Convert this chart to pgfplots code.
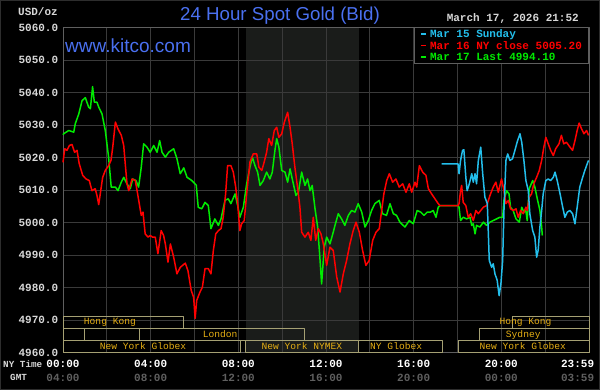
\documentclass[border=0pt]{standalone}
\usepackage{pgfplots}
\pgfplotsset{compat=1.18}
\usepackage{fontspec}
\setmainfont{Liberation Sans}
\newfontfamily\mono{Liberation Mono}
\definecolor{titleblue}{RGB}{74,112,240}
\definecolor{gridc}{RGB}{58,58,58}
\definecolor{framec}{RGB}{95,95,95}
\definecolor{shadec}{RGB}{26,28,26}
\definecolor{lbl}{RGB}{215,215,215}
\definecolor{gmtc}{RGB}{95,95,95}
\definecolor{sessbox}{RGB}{165,160,115}
\definecolor{sesstxt}{RGB}{230,175,20}
\definecolor{cyanl}{RGB}{35,190,235}
\definecolor{redl}{RGB}{255,0,0}
\definecolor{greenl}{RGB}{0,235,0}
\begin{document}
\begin{tikzpicture}
\useasboundingbox (0pt,0pt) rectangle (600pt,390pt);
\fill[black] (0pt,0pt) rectangle (600pt,390pt);
\draw[gray!35!black, line width=1pt] (0.5pt,0.5pt) rectangle (599.5pt,389.5pt);
\fill[shadec] (245.6pt,37.5pt) rectangle (358.9pt,363pt);
\begin{axis}[at={(63pt,37.5pt)}, anchor=south west, scale only axis,
  width=526pt, height=325pt,
  xmin=0, xmax=24, ymin=4960, ymax=5060,
  clip=false,
  axis line style={framec, line width=0.8pt},
  grid=both,
  major grid style={gridc, line width=0.8pt},
  minor grid style={gridc, line width=0.8pt},
  xtick={0,4,8,12,16,20},
  minor xtick={2,6,10,14,18,22},
  ytick={4960,4970,...,5060},
  tick style={draw=none},
  /pgf/number format/assume math mode=true,
  yticklabel style={font=\fontsize{11}{12}\selectfont\mono\bfseries, text=lbl,
    /pgf/number format/fixed, /pgf/number format/fixed zerofill,
    /pgf/number format/precision=1, /pgf/number format/1000 sep={}, xshift=-1.3pt},
  xticklabel style={font=\fontsize{11}{13.5}\selectfont\mono\bfseries, align=center, text=white, yshift=-4.5pt},
  xticklabels={{00:00\\\textcolor{gmtc}{04:00}},{04:00\\\textcolor{gmtc}{08:00}},{08:00\\\textcolor{gmtc}{12:00}},{12:00\\\textcolor{gmtc}{16:00}},{16:00\\\textcolor{gmtc}{20:00}},{20:00\\\textcolor{gmtc}{00:00}}},
  extra x ticks={23.983},
  extra x tick labels={{23:59\\\textcolor{gmtc}{03:59}}},
  extra x tick style={major grid style={draw=none}, xticklabel style={xshift=-11pt}},
  line join=round,
]
% session boxes
\draw[sessbox, line width=1pt] (axis cs:0,4967.37) rectangle (axis cs:5.5,4971.06);
\draw[sessbox, line width=1pt] (axis cs:20.5,4967.37) rectangle (axis cs:24,4971.06);
\draw[sessbox, line width=1pt] (axis cs:0,4963.69) rectangle (axis cs:1,4967.37);
\draw[sessbox, line width=1pt] (axis cs:3.5,4963.69) rectangle (axis cs:11,4967.37);
\draw[sessbox, line width=1pt] (axis cs:19,4963.69) rectangle (axis cs:24,4967.37);
\draw[sessbox, line width=1pt] (axis cs:0,4960) rectangle (axis cs:8.1,4963.69);
\draw[sessbox, line width=1pt] (axis cs:8.33,4960) rectangle (axis cs:13.5,4963.69);
\draw[sessbox, line width=1pt] (axis cs:13.5,4960) rectangle (axis cs:17.33,4963.69);
\draw[sessbox, line width=1pt] (axis cs:18.03,4960) rectangle (axis cs:24,4963.69);
\begin{scope}[every node/.style={text=sesstxt, font=\fontsize{9.6}{10}\selectfont\mono, inner sep=0pt}]
\node at (axis cs:2.14,4969.2) {Hong Kong};
\node at (axis cs:21.1,4969.2) {Hong Kong};
\node at (axis cs:7.17,4965.53) {London};
\node at (axis cs:21.0,4965.53) {Sydney};
\node at (axis cs:3.65,4961.84) {New York Globex};
\node at (axis cs:10.9,4961.84) {New York NYMEX};
\node at (axis cs:15.2,4961.84) {NY Globex};
\node at (axis cs:20.98,4961.84) {New York Globex};
\end{scope}
% Mar 17 (green)
\addplot[greenl, line width=1.5pt] coordinates {
(0,5027) (0.03,5027.3) (0.26,5028.3) (0.49,5027.8) (0.56,5030.4) (0.72,5033.4) (0.87,5037.5) (1.02,5038.4) (1.17,5035.5) (1.25,5035) (1.35,5041.8) (1.43,5037) (1.55,5037) (1.63,5035.5) (1.78,5033.4) (1.93,5028.3) (2.08,5020.1) (2.2,5010.9) (2.39,5010.9) (2.51,5009.8) (2.66,5012.4) (2.77,5013.9) (2.92,5011.9) (3.07,5010.4) (3.18,5013.4) (3.33,5012.9) (3.45,5010.9) (3.57,5017) (3.68,5024.2) (3.83,5023.2) (3.98,5021.6) (4.14,5023.7) (4.29,5021.6) (4.41,5025.2) (4.52,5021.6) (4.67,5020.1) (4.82,5021.6) (5.05,5022.7) (5.2,5019.6) (5.35,5015) (5.51,5016.8) (5.66,5013.9) (5.88,5012.9) (6.08,5011.5) (6.17,5004.7) (6.33,5004.2) (6.48,5006.2) (6.63,5005.2) (6.75,4998.1) (6.93,5001.1) (7.09,4999.1) (7.21,5001.1) (7.39,5006.8) (7.54,5007.3) (7.66,5005.8) (7.85,5008.8) (7.97,5005.2) (8.07,5001.6) (8.23,5004.7) (8.38,5011.9) (8.53,5017) (8.64,5020.1) (8.76,5017.5) (8.88,5015.5) (8.99,5011.4) (9.14,5012.9) (9.29,5015.5) (9.44,5013.4) (9.55,5015.5) (9.67,5022.2) (9.75,5025.8) (9.85,5023.2) (9.98,5016) (10.13,5015.5) (10.25,5012.4) (10.36,5016.5) (10.51,5011.9) (10.63,5008.3) (10.74,5009.3) (10.89,5015.5) (11.04,5011.4) (11.16,5013.4) (11.27,5009.8) (11.37,5011.4) (11.5,5004.2) (11.62,4998.6) (11.72,4989.3) (11.8,4981.1) (11.92,4992.4) (12.03,4995.5) (12.18,4993.4) (12.33,4997) (12.41,4999.1) (12.56,5002.7) (12.71,5001.1) (12.86,4999.1) (13.02,5002.2) (13.17,5003.7) (13.32,5003.2) (13.47,5005.8) (13.63,5003.2) (13.78,4998.6) (13.93,5000.6) (14.08,5003.7) (14.23,5005.8) (14.43,5006.8) (14.58,5002.7) (14.76,5002.2) (14.92,5005.8) (15.07,5002.7) (15.22,5002.2) (15.37,5000.1) (15.6,4998.6) (15.8,5000.6) (15.98,4999.6) (16.16,5003.7) (16.32,5003.2) (16.47,5002.2) (16.62,5003.2) (16.77,5003.2) (16.89,5003.7) (17.02,5001.6) (17.12,5004.7) (17.2,5005.2) (18.03,5005.2) (18.07,5004.7) (18.14,5000.6) (18.26,5001.6) (18.42,5001.1) (18.57,5001.6) (18.65,4999.1) (18.72,4999.6) (18.8,4996.5) (18.87,4999.1) (19.02,4998.6) (19.18,5000.1) (19.33,4999.1) (19.48,5000.1) (19.63,5000.6) (19.78,5001.1) (19.93,5001.6) (20.06,5001.6) (20.12,5006.8) (20.24,5009.8) (20.35,5008.8) (20.42,5004.7) (20.54,5003.7) (20.67,5001.1) (20.82,5000.1) (20.93,5004.7) (21.03,5003.2) (21.12,5003.7) (21.18,5000.6) (21.27,5010.4) (21.43,5012.9) (21.53,5010.9) (21.64,5007.3) (21.76,5003.7) (21.84,4998.6) (21.87,4996)
};
% Mar 16 (red)
\addplot[redl, line width=1.5pt] coordinates {
(0,5018.5) (0.08,5022.7) (0.18,5022.2) (0.29,5023.7) (0.41,5024) (0.53,5021.6) (0.64,5022.2) (0.74,5018.1) (0.9,5014.5) (1.05,5013.4) (1.2,5012.9) (1.32,5009.8) (1.47,5010.4) (1.55,5008.3) (1.63,5005.5) (1.7,5008.8) (1.81,5013.9) (1.93,5016) (2.08,5017.5) (2.19,5019.1) (2.27,5023.2) (2.39,5030.9) (2.51,5028.8) (2.66,5026.8) (2.77,5023.7) (2.84,5018.1) (2.92,5011.9) (3.0,5009.8) (3.15,5013.4) (3.3,5012.9) (3.38,5009.8) (3.48,5005.8) (3.57,5002.2) (3.65,5003.2) (3.75,4996.5) (3.88,4995.5) (3.98,4996) (4.09,4995.5) (4.21,4995.5) (4.33,4990.4) (4.48,4997.5) (4.59,4996) (4.67,4993.4) (4.79,4987.8) (4.9,4993.4) (5.05,4989.3) (5.2,4984.2) (5.35,4986.2) (5.58,4987.5) (5.7,4985.2) (5.85,4979.1) (5.96,4977) (6.03,4970.5) (6.1,4976) (6.25,4978.6) (6.36,4980.1) (6.48,4985.8) (6.63,4985.8) (6.75,4984.2) (6.86,4991.4) (6.97,4996.5) (7.09,4997.5) (7.21,4998.1) (7.31,5001.6) (7.42,5008.8) (7.51,5017.5) (7.66,5017.5) (7.77,5015.5) (7.88,5010.9) (7.97,5005.8) (8.07,4997.5) (8.15,4999.6) (8.27,5000.6) (8.38,5008.8) (8.53,5018.6) (8.68,5021.1) (8.84,5021.1) (8.94,5017) (9.07,5016) (9.18,5018.6) (9.29,5021.6) (9.39,5025.8) (9.52,5023.7) (9.64,5028.3) (9.75,5029.3) (9.85,5026.2) (9.98,5027.3) (10.1,5030.9) (10.25,5033.9) (10.36,5029.3) (10.46,5024.2) (10.58,5017) (10.71,5010.4) (10.81,5004.7) (10.89,4997) (11.04,4995.5) (11.19,4997) (11.31,4994.5) (11.42,5001.6) (11.53,4994.5) (11.65,4998.1) (11.77,4996.5) (11.88,4993.4) (12.03,4986.8) (12.18,4992.4) (12.33,4991.4) (12.49,4983.2) (12.64,4978.6) (12.79,4984.2) (12.94,4988.3) (13.09,4993.4) (13.24,4997.5) (13.37,5000.1) (13.52,4997) (13.67,4991.4) (13.82,4986.8) (13.97,4988.3) (14.13,4994.5) (14.28,4997) (14.43,4998.1) (14.54,5003.7) (14.64,5008.8) (14.77,5012.9) (14.89,5015) (15.04,5012.4) (15.19,5013.4) (15.34,5010.9) (15.5,5011.9) (15.65,5009.3) (15.8,5011.9) (15.91,5009.3) (16.06,5012.4) (16.14,5010.9) (16.26,5017.5) (16.41,5015.5) (16.56,5014.5) (16.67,5010.4) (16.82,5008.8) (16.97,5007.3) (17.12,5005.8) (17.2,5005.2) (18.03,5005.2) (18.07,5005.8) (18.14,5009.8) (18.19,5011.4) (18.26,5006.2) (18.38,5005.2) (18.49,5001.6) (18.6,5002.7) (18.72,5000.6) (18.84,5003.7) (18.95,5002.7) (19.06,5003.7) (19.18,5004.7) (19.33,5005.2) (19.48,5008.3) (19.63,5010.9) (19.75,5012.4) (19.86,5009.3) (20.01,5013.4) (20.12,5009.8) (20.21,5005.8) (20.32,5006.8) (20.42,5004.2) (20.54,5003.7) (20.67,5004.2) (20.77,5001.6) (20.88,5003.7) (21.0,5002.7) (21.12,5004.7) (21.18,5003.7) (21.27,5007.8) (21.38,5008.8) (21.48,5011.9) (21.61,5013.9) (21.73,5016) (21.84,5019.1) (21.94,5023.2) (22.03,5026.2) (22.14,5024.2) (22.25,5022.2) (22.37,5020.6) (22.48,5022.7) (22.63,5024.2) (22.74,5026.8) (22.85,5024.2) (22.97,5024.7) (23.13,5023.2) (23.25,5022.2) (23.36,5025.2) (23.46,5028.3) (23.55,5030.6) (23.66,5028.8) (23.77,5027.3) (23.89,5028.3) (23.98,5026.8)
};
% Mar 15 Sunday (cyan)
\addplot[cyanl, line width=1.5pt] coordinates {
(17.27,5018) (18.03,5018) (18.07,5015) (18.14,5019.1) (18.23,5022.2) (18.29,5022.4) (18.38,5013.9) (18.44,5009.8) (18.54,5011.9) (18.65,5015) (18.72,5012.4) (18.8,5015) (18.87,5011.9) (18.95,5019.1) (19.06,5023.2) (19.15,5015) (19.25,5007.8) (19.36,5005.8) (19.45,4988.3) (19.56,4986.2) (19.63,4987.3) (19.71,4984.2) (19.81,4982.2) (19.9,4977.5) (19.98,4981.1) (20.06,4988.3) (20.12,5003.7) (20.21,5019.1) (20.29,5021.1) (20.39,5019.1) (20.51,5019.6) (20.62,5022.2) (20.72,5024.7) (20.85,5027.3) (20.93,5024.7) (21.03,5019.1) (21.12,5012.9) (21.23,5009.8) (21.3,5002.7) (21.43,4997.5) (21.53,4995.5) (21.61,4989.3) (21.68,4991.4) (21.76,4998.6) (21.84,5003.7) (21.91,5008.8) (22.03,5012.9) (22.14,5013.4) (22.25,5012.9) (22.37,5013.9) (22.45,5015.5) (22.55,5012.9) (22.68,5008.8) (22.8,5004.7) (22.9,5001.6) (23.01,5003.2) (23.13,5003.7) (23.25,5002.7) (23.36,4999.6) (23.46,5004.7) (23.58,5010.9) (23.71,5013.9) (23.81,5016) (23.92,5018.1) (23.98,5019.1)
};
\end{axis}
% legend box
\node[anchor=north east, draw=framec, line width=0.8pt, fill=black, inner xsep=6.7pt, inner ysep=2.5pt, align=left,
  font=\fontsize{11}{11.5}\selectfont\mono\bfseries]
  at (589pt,363pt)
  {\textcolor{cyanl}{\rule[3pt]{5pt}{1.6pt}\hspace{4pt}Mar 15 Sunday}\\
   \textcolor{redl}{\rule[3pt]{5pt}{1.6pt}\hspace{4pt}Mar 16 NY close 5005.20}\\
   \textcolor{greenl}{\rule[3pt]{5pt}{1.6pt}\hspace{4pt}Mar 17 Last 4994.10}};
\node[anchor=base, inner sep=0pt, text=titleblue, font=\fontsize{18.7}{20}\selectfont] at (280pt,369pt) {24 Hour Spot Gold (Bid)};
\node[anchor=base west, inner sep=0pt, text=titleblue, font=\fontsize{19}{20}\selectfont] at (65pt,337.3pt) {www.kitco.com};
\node[anchor=base east, inner sep=0pt, text=lbl, font=\fontsize{11}{12}\selectfont\mono\bfseries] at (58pt,374pt) {USD/oz};
\node[anchor=base east, inner sep=0pt, text=lbl, font=\fontsize{11}{12}\selectfont\mono\bfseries] at (579pt,368pt) {March 17, 2026 21:52};
\node[anchor=west, inner sep=0pt, text=lbl, font=\fontsize{9.3}{10}\selectfont\mono\bfseries] at (3pt,25.7pt) {NY Time};
\node[anchor=west, inner sep=0pt, text=lbl, font=\fontsize{9.3}{10}\selectfont\mono\bfseries] at (10pt,12.7pt) {GMT};
\end{tikzpicture}
\end{document}
